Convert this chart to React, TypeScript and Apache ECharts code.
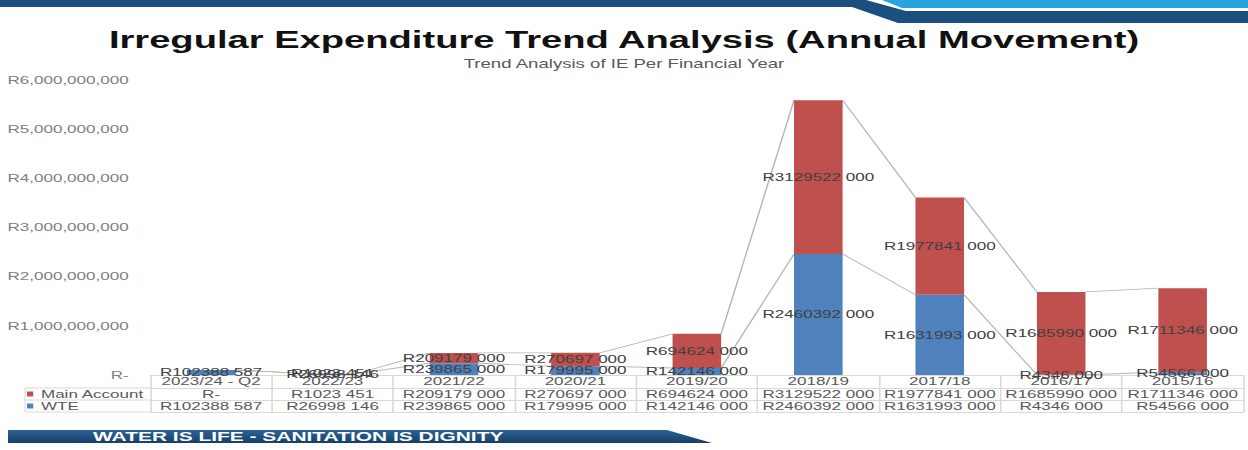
import React, { useEffect, useRef } from "react";
import * as echarts from "echarts";

// ---- data ----
const categories = ["2023/24 - Q2", "2022/23", "2021/22", "2020/21", "2019/20", "2018/19", "2017/18", "2016/17", "2015/16"];
const mainAccount = [0, 1023451, 209179000, 270697000, 694624000, 3129522000, 1977841000, 1685990000, 1711346000];
const wte = [102388587, 26998146, 239865000, 179995000, 142146000, 2460392000, 1631993000, 4346000, 54566000];
const seriesNames = ["Main Account", "WTE"];
const yMax = 6000000000;
const yStep = 1000000000;

const titleText = "Irregular Expenditure Trend Analysis (Annual Movement)";
const subtitleText = "Trend Analysis of IE Per Financial Year";
const footerText = "WATER IS LIFE - SANITATION IS DIGNITY";

// ---- layout (the slide picture is stretched horizontally) ----
const W0 = 805;
const S = 1248 / W0;
const X = (x: number) => x / S;
const FONT = "'Liberation Sans', Arial, Helvetica, sans-serif";

const fmtValue = (v: number) => {
  if (v === 0) return "R-";
  const hi = Math.floor(v / 1000);
  const lo = String(v % 1000).padStart(3, "0");
  return "R" + hi + " " + lo;
};
const fmtAxis = (v: number) => {
  if (v === 0) return "R-";
  return "R" + String(Math.round(v)).replace(/\B(?=(\d{3})+(?!\d))/g, ",");
};

export default function App() {
  const ref = useRef<HTMLDivElement>(null);
  useEffect(() => {
    document.body.style.margin = "0";
    if (!ref.current) return;
    const chart = echarts.init(ref.current, undefined, { renderer: "svg" });

    const totals = mainAccount.map((m, i) => m + wte[i]);
    const wteLinks = wte.slice(0, -1).map((v, i) => [i, v, wte[i + 1]]);
    const totLinks = totals.slice(0, -1).map((v, i) => [i, v, totals[i + 1]]);

    const linkRender = (params: any, api: any) => {
      const i = api.value(0);
      const a = api.coord([i, api.value(1)]);
      const b = api.coord([i + 1, api.value(2)]);
      const hw = api.size([1, 0])[0] * 0.2;
      return {
        type: "line",
        shape: { x1: a[0] + hw, y1: a[1], x2: b[0] - hw, y2: b[1] },
        style: { stroke: "#b3b3b3", lineWidth: 0.9 },
      };
    };

    const tableLine = "#d9d9d9";
    const labelStyle = {
      show: true,
      position: "inside",
      color: "#404040",
      fontSize: 11,
      fontFamily: FONT,
    };

    const option: any = {
      animation: false,
      backgroundColor: "#ffffff",
      textStyle: { fontFamily: FONT },
      title: {
        text: titleText,
        subtext: subtitleText,
        left: "center",
        top: 22,
        itemGap: 6,
        textStyle: { fontSize: 24.6, fontWeight: "bold", color: "#111111", fontFamily: FONT },
        subtextStyle: { fontSize: 12, color: "#595959", fontFamily: FONT },
      },
      legend: {
        data: seriesNames,
        orient: "vertical",
        left: X(27),
        top: 388,
        padding: 0,
        itemGap: 0,
        itemWidth: 4,
        itemHeight: 5,
        itemTextGap: 3,
        icon: "rect",
        textStyle: { fontSize: 11, color: "#595959", lineHeight: 12, fontFamily: FONT },
      },
      grid: { left: 97, right: 3, top: 80, bottom: 75 },
      xAxis: [
        {
          type: "category",
          data: categories,
          axisLine: { show: true, lineStyle: { color: tableLine } },
          axisTick: { show: true, length: 37, interval: 0, lineStyle: { color: tableLine } },
          axisLabel: { interval: 0, margin: 1, fontSize: 11, color: "#595959" },
        },
        {
          type: "category",
          data: mainAccount.map(fmtValue),
          position: "bottom",
          offset: 13,
          axisLine: { show: true, lineStyle: { color: tableLine } },
          axisTick: { show: false },
          axisLabel: { interval: 0, margin: 1, fontSize: 11, color: "#595959" },
        },
        {
          type: "category",
          data: wte.map(fmtValue),
          position: "bottom",
          offset: 25,
          axisLine: { show: true, lineStyle: { color: tableLine } },
          axisTick: { show: false },
          axisLabel: { interval: 0, margin: 1, fontSize: 11, color: "#595959" },
        },
        {
          type: "category",
          data: categories,
          position: "bottom",
          offset: 37,
          axisLine: { show: true, lineStyle: { color: tableLine } },
          axisTick: { show: false },
          axisLabel: { show: false },
        },
      ],
      yAxis: {
        type: "value",
        min: 0,
        max: yMax,
        interval: yStep,
        axisLine: { show: false },
        axisTick: { show: false },
        splitLine: { show: false },
        axisLabel: { formatter: fmtAxis, fontSize: 11, color: "#808080", margin: 14 },
      },
      series: [
        {
          name: "WTE",
          type: "bar",
          stack: "total",
          barWidth: "40%",
          data: wte,
          itemStyle: { color: "#4f81bd" },
          label: { ...labelStyle, formatter: (p: any) => fmtValue(p.value) },
          z: 3,
        },
        {
          name: "Main Account",
          type: "bar",
          stack: "total",
          barWidth: "40%",
          data: mainAccount,
          itemStyle: { color: "#c0504d" },
          label: { ...labelStyle, formatter: (p: any) => (p.value === 0 ? "" : fmtValue(p.value)) },
          z: 3,
        },
        {
          name: "wteLinks",
          type: "custom",
          renderItem: linkRender,
          data: wteLinks,
          encode: { x: 0, y: 1 },
          silent: true,
          z: 1,
        },
        {
          name: "totLinks",
          type: "custom",
          renderItem: linkRender,
          data: totLinks,
          encode: { x: 0, y: 1 },
          silent: true,
          z: 1,
        },
      ],
      graphic: [
        // header bands
        {
          type: "polygon",
          shape: { points: [[0, 0], [X(866), 0], [X(906), 11], [X(1248), 11], [X(1248), 23], [X(898), 23], [X(852), 7], [0, 7]] },
          style: { fill: "#1b4f7d" },
          silent: true,
        },
        {
          type: "polygon",
          shape: { points: [[X(882), 0], [X(1248), 0], [X(1248), 8], [X(902), 8]] },
          style: { fill: "#26a4e0" },
          silent: true,
        },
        // footer band
        {
          type: "polygon",
          shape: { points: [[X(8), 430], [X(667), 430], [X(712), 443], [X(8), 443]] },
          style: {
            fill: new echarts.graphic.LinearGradient(0, 0, 0, 1, [
              { offset: 0, color: "#2d6396" },
              { offset: 1, color: "#163f68" },
            ]),
          },
          silent: true,
        },
        {
          type: "text",
          x: X(93),
          y: 436.5,
          style: {
            text: footerText,
            fill: "#ffffff",
            font: "bold 13.5px " + FONT,
            verticalAlign: "middle",
          },
          silent: true,
        },
        // legend column box of the data table
        { type: "line", shape: { x1: X(25), y1: 388, x2: 97, y2: 388 }, style: { stroke: tableLine, lineWidth: 1 }, silent: true },
        { type: "line", shape: { x1: X(25), y1: 400, x2: 97, y2: 400 }, style: { stroke: tableLine, lineWidth: 1 }, silent: true },
        { type: "line", shape: { x1: X(25), y1: 412, x2: 97, y2: 412 }, style: { stroke: tableLine, lineWidth: 1 }, silent: true },
        { type: "line", shape: { x1: X(25), y1: 388, x2: X(25), y2: 412 }, style: { stroke: tableLine, lineWidth: 0.7 }, silent: true },
      ],
    };

    chart.setOption(option);
    return () => chart.dispose();
  }, []);

  return (
    <div style={{ width: 1248, height: 450, overflow: "hidden", position: "relative", background: "#fff" }}>
      <div
        ref={ref}
        style={{ width: W0, height: 450, transform: `scaleX(${S})`, transformOrigin: "0 0", position: "absolute", left: 0, top: 0 }}
      />
    </div>
  );
}
